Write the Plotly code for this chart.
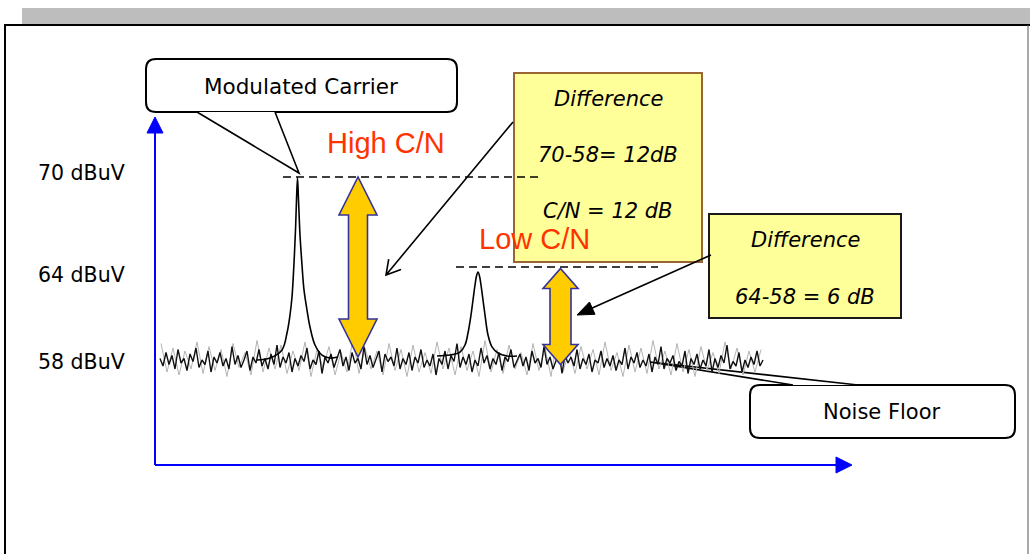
import math

import plotly.graph_objects as go

W, H = 1030, 554
PX_PER_DB = 15.0          # vertical scale of the sketch
DB_AT_PX = (58.0, 357.0)  # 58 dBuV sits at pixel row 357

SANS = "Verdana, DejaVu Sans, sans-serif"
ARIAL = "Arial, Liberation Sans, sans-serif"
RED = "#ff3300"
YELLOW_BOX = "#ffff99"
ARROW_FILL = "#ffcc00"
ARROW_EDGE = "#333399"

# ---- data -------------------------------------------------------------
level_labels = ["70 dBuV", "64 dBuV", "58 dBuV"]
carrier_level = 70.0
second_level = 64.0

carrier_freq = [257, 270, 282, 287, 290, 292, 294, 295.5, 296.5, 297.5, 298.5,
                300, 302, 304, 307, 310, 315, 322, 330, 338]
carrier_db = [57.8, 57.93, 58.47, 59.6, 60.8, 62.0, 64.27, 66.47, 68.47, 69.93, 68.47,
              66.13, 64.13, 62.47, 61.13, 60.0, 58.8, 58.13, 57.93, 58.0]

second_freq = [437, 450, 460, 465, 468, 471, 473, 475, 476.5, 478, 479.5,
               481, 483, 485, 488, 492, 498, 507, 517]
second_db = [58.07, 58.13, 58.33, 58.8, 59.6, 60.8, 61.8, 62.8, 63.4, 63.67, 63.4,
             62.8, 61.8, 60.8, 59.47, 58.67, 58.27, 58.07, 58.07]

noise_freq = list(range(160, 766, 3))
noise_db = [
    57.9, 57.4, 58.3, 57.5, 58.1, 57.2, 58.5, 57.6, 57.9, 57.1, 58.2, 57.7, 58.6, 57.3, 57.8, 57.5, 58.4, 57.0, 58.0, 57.6,
    58.3, 57.4, 57.9, 57.2, 58.7, 57.5, 58.1, 57.3, 57.8, 58.4, 57.1, 58.0, 57.6, 58.5, 57.4, 57.9, 57.2, 58.2, 57.5, 58.8,
    57.3, 58.0, 57.6, 58.3, 57.0, 57.9, 57.4, 58.1, 57.7, 58.6, 57.2, 57.8, 57.5, 58.4, 56.9, 58.0, 57.6, 58.2, 57.3, 57.9,
    58.5, 57.4, 58.0, 57.1, 58.3, 57.6, 57.9, 57.2, 58.7, 57.5, 58.1, 57.3, 57.8, 58.4, 57.0, 58.2, 57.7, 58.0, 57.4, 58.6,
    57.2, 57.9, 57.5, 58.3, 57.1, 58.0, 57.6, 58.5, 57.3, 57.8, 57.4, 58.2, 56.8, 57.9, 57.5, 58.4, 57.2, 58.1, 57.7, 58.9,
    57.3, 58.0, 57.5, 58.2, 57.0, 57.8, 57.4, 58.6, 57.6, 58.1, 57.2, 57.9, 57.5, 58.3, 57.1, 58.0, 57.7, 58.5, 57.3, 57.8,
    58.2, 57.4, 58.0, 57.1, 58.4, 57.6, 57.9, 57.3, 58.7, 57.5, 58.0, 57.2, 57.8, 58.3, 56.9, 58.1, 57.6, 58.0, 57.4, 58.5,
    57.2, 57.9, 57.5, 58.2, 57.0, 57.8, 57.6, 58.4, 57.3, 57.9, 57.4, 58.1, 57.1, 57.8, 57.5, 58.6, 57.2, 58.0, 57.6, 58.3,
    57.3, 57.8, 57.4, 58.2, 57.0, 58.0, 57.5, 58.7, 57.2, 57.9, 57.6, 58.1, 57.1, 57.7, 57.4, 58.4, 56.9, 57.9, 57.5, 58.2,
    57.2, 57.8, 57.4, 58.5, 57.0, 57.9, 57.3, 58.1, 57.6, 58.8, 57.2, 57.7, 57.4, 58.3, 57.0, 57.8, 57.3, 58.0, 57.5, 58.4,
    57.4, 57.8,
]
noise_grey_freq = list(range(161, 766, 6))
noise_grey_db = [
    58.9, 57.0, 58.6, 56.8, 58.4, 57.2, 59.0, 56.9, 58.7, 57.1, 58.5, 56.7, 58.9, 57.3, 58.3, 56.8, 59.1, 57.0, 58.6, 57.2,
    58.8, 56.9, 58.4, 57.1, 59.0, 56.7, 58.5, 57.3, 58.7, 56.8, 58.3, 57.0, 59.2, 56.9, 58.6, 57.2, 58.4, 56.8, 58.9, 57.1,
    58.5, 56.7, 58.8, 57.0, 58.3, 56.9, 59.0, 57.2, 58.6, 56.8, 58.7, 57.1, 58.4, 56.7, 59.1, 57.0, 58.5, 56.9, 58.8, 57.2,
    58.3, 56.8, 58.9, 57.1, 58.6, 56.7, 59.2, 57.0, 58.4, 56.9, 58.7, 57.2, 58.5, 56.8, 59.0, 57.1, 58.3, 56.7, 58.8, 57.0,
    58.6, 56.9, 59.1, 57.2, 58.4, 56.8, 58.9, 57.0, 58.5, 56.7, 58.7, 57.1, 58.3, 56.9, 59.0, 57.2, 58.6, 56.8, 58.4, 57.0,
    58.5,
]

# C/N double arrows: (centre freq, carrier tip, noise tip)
cn_arrow_freq = [358, 560.5]
cn_arrow_top = [70.0, 63.9]
cn_arrow_bottom = [58.0, 57.5]


# ---- helpers (pixel geometry for the sketch decoration) ----------------
def rrect(x0, y0, x1, y1, r=10):
    return (f"M{x0 + r},{y0} L{x1 - r},{y0} Q{x1},{y0} {x1},{y0 + r} "
            f"L{x1},{y1 - r} Q{x1},{y1} {x1 - r},{y1} L{x0 + r},{y1} "
            f"Q{x0},{y1} {x0},{y1 - r} L{x0},{y0 + r} Q{x0},{y0} {x0 + r},{y0} Z")


def double_arrow(xc, top, bottom, shaft_hw, head_hw, head_px):
    hl = head_px / PX_PER_DB
    pts = [(xc, top), (xc + head_hw, top - hl), (xc + shaft_hw, top - hl),
           (xc + shaft_hw, bottom + hl), (xc + head_hw, bottom + hl), (xc, bottom),
           (xc - head_hw, bottom + hl), (xc - shaft_hw, bottom + hl),
           (xc - shaft_hw, top - hl), (xc - head_hw, top - hl)]
    return "M" + " L".join(f"{x},{y}" for x, y in pts) + " Z"


def head_points(x0, y0, x1, y1, length, half_angle):
    ang = math.atan2(y0 - y1, x0 - x1)
    a = (x1 + length * math.cos(ang + half_angle), y1 + length * math.sin(ang + half_angle))
    b = (x1 + length * math.cos(ang - half_angle), y1 + length * math.sin(ang - half_angle))
    return a, b


fig = go.Figure()

# noise floor (grey then black), then the two carriers
fig.add_trace(go.Scatter(x=noise_grey_freq, y=noise_grey_db, mode="lines",
                         line={"color": "#b4b4b4", "width": 1}, hoverinfo="skip"))
fig.add_trace(go.Scatter(x=noise_freq, y=noise_db, mode="lines",
                         line={"color": "#111111", "width": 1.4}, hoverinfo="skip"))
fig.add_trace(go.Scatter(x=carrier_freq, y=carrier_db, mode="lines", line_shape="spline",
                         line={"color": "black", "width": 1.6}, hoverinfo="skip"))
fig.add_trace(go.Scatter(x=second_freq, y=second_db, mode="lines", line_shape="spline",
                         line={"color": "black", "width": 1.6}, hoverinfo="skip"))

shapes = []
P = {"xref": "x", "yref": "y2"}  # pixel space of the sketch

# page frame
shapes.append(dict(type="rect", x0=22, x1=W, y0=8, y1=24, fillcolor="#bdbdbd",
                   line_width=0, layer="below", **P))
shapes.append(dict(type="line", x0=4, x1=W, y0=25, y1=25, line={"color": "black", "width": 2},
                   layer="below", **P))
shapes.append(dict(type="line", x0=5, x1=5, y0=25, y1=H, line={"color": "black", "width": 2},
                   layer="below", **P))
shapes.append(dict(type="line", x0=1028, x1=1028, y0=25, y1=H, line={"color": "#555555", "width": 1},
                   layer="below", **P))

# blue axes with arrowheads
shapes.append(dict(type="line", x0=155, x1=155, y0=465, y1=130, line={"color": "#0000ff", "width": 2},
                   layer="below", **P))
shapes.append(dict(type="path", path="M147,133 L155,117 L163,133 Z", fillcolor="#0000ff",
                   line={"color": "#0000ff", "width": 1}, layer="below", **P))
shapes.append(dict(type="line", x0=155, x1=840, y0=465, y1=465, line={"color": "#0000ff", "width": 2},
                   layer="below", **P))
shapes.append(dict(type="path", path="M836,457 L852,465 L836,473 Z", fillcolor="#0000ff",
                   line={"color": "#0000ff", "width": 1}, layer="below", **P))

# callouts
shapes.append(dict(type="path", path=rrect(146, 59, 457, 112), fillcolor="white",
                   line={"color": "black", "width": 2}, layer="below", **P))
shapes.append(dict(type="path", path="M197,112 L299,173 L275,112", fillcolor="white",
                   line={"color": "black", "width": 1.6}, layer="below", **P))
shapes.append(dict(type="path", path=rrect(750, 385, 1015, 438), fillcolor="white",
                   line={"color": "black", "width": 2}, layer="below", **P))
shapes.append(dict(type="path", path="M793,385 L650,362 L858,385", fillcolor="white",
                   line={"color": "black", "width": 1.6}, layer="below", **P))

# yellow difference boxes
shapes.append(dict(type="rect", x0=514, x1=702, y0=73, y1=262, fillcolor=YELLOW_BOX,
                   line={"color": "#996633", "width": 2}, layer="below", **P))
shapes.append(dict(type="rect", x0=709, x1=901, y0=214, y1=318, fillcolor=YELLOW_BOX,
                   line={"color": "#1a1a1a", "width": 2}, layer="below", **P))

# level reference lines
shapes.append(dict(type="line", xref="x", yref="y", x0=283, x1=542, y0=carrier_level, y1=carrier_level,
                   line={"color": "black", "width": 1.6, "dash": "8px,5px"}, layer="below"))
shapes.append(dict(type="line", xref="x", yref="y", x0=456, x1=658, y0=second_level, y1=second_level,
                   line={"color": "black", "width": 1.6, "dash": "8px,5px"}, layer="below"))

# pointer arrows from the boxes
a, b = head_points(513, 122, 386, 275, 16, math.radians(30))
shapes.append(dict(type="path", path=f"M513,122 L386,275 M{a[0]:.1f},{a[1]:.1f} L386,275 L{b[0]:.1f},{b[1]:.1f}",
                   line={"color": "black", "width": 1.6}, **P))
a, b = head_points(711, 255, 577, 315, 18, math.radians(22))
shapes.append(dict(type="line", x0=711, y0=255, x1=590, y1=309, line={"color": "black", "width": 1.6}, **P))
shapes.append(dict(type="path", path=f"M577,315 L{a[0]:.1f},{a[1]:.1f} L{b[0]:.1f},{b[1]:.1f} Z",
                   fillcolor="black", line={"color": "black", "width": 1}, **P))

# C/N double arrows
for xc, top, bot, shw, hhw, hpx in zip(cn_arrow_freq, cn_arrow_top, cn_arrow_bottom,
                                       [9.5, 10.5], [19, 17.5], [38, 20]):
    shapes.append(dict(type="path", xref="x", yref="y", path=double_arrow(xc, top, bot, shw, hhw, hpx),
                       fillcolor=ARROW_FILL, line={"color": ARROW_EDGE, "width": 1.6}))

annotations = []


def label(x, y, text, size=21, color="black", family=SANS, xanchor="center"):
    annotations.append(dict(x=x, y=y, xref="x", yref="y2", text=text, showarrow=False,
                            xanchor=xanchor, yanchor="middle",
                            font={"family": family, "size": size, "color": color}))


for txt, yy in zip(level_labels, [173, 275, 362]):
    label(127, yy, txt, size=20.5, xanchor="right")
label(301, 86, "Modulated Carrier", size=21.5)
label(386, 143, "High C/N", size=29, color=RED, family=ARIAL)
label(534, 239, "Low C/N", size=29, color=RED, family=ARIAL)
label(608, 99, "<i>Difference</i>")
label(608, 155, "<i>70-58= 12dB</i>")
label(608, 211, "<i>C/N = 12 dB</i>")
label(805, 240, "<i>Difference</i>")
label(805, 297, "<i>64-58 = 6 dB</i>")
label(882, 412, "Noise Floor")

y_top = DB_AT_PX[0] + DB_AT_PX[1] / PX_PER_DB
y_bot = DB_AT_PX[0] - (H - DB_AT_PX[1]) / PX_PER_DB

fig.update_layout(
    width=W, height=H,
    margin={"l": 0, "r": 0, "t": 0, "b": 0},
    paper_bgcolor="white", plot_bgcolor="white",
    showlegend=False,
    xaxis={"range": [0, W], "visible": False, "fixedrange": True},
    yaxis={"range": [y_bot, y_top], "visible": False, "fixedrange": True},
    yaxis2={"range": [H, 0], "visible": False, "overlaying": "y", "fixedrange": True},
    shapes=shapes,
    annotations=annotations,
)

# the page body has a default 8px margin; drop it so the sketch sits at 0,0
fig.write_html("out.html", config={"displayModeBar": False},
               post_script="document.body.style.margin='0px';")
